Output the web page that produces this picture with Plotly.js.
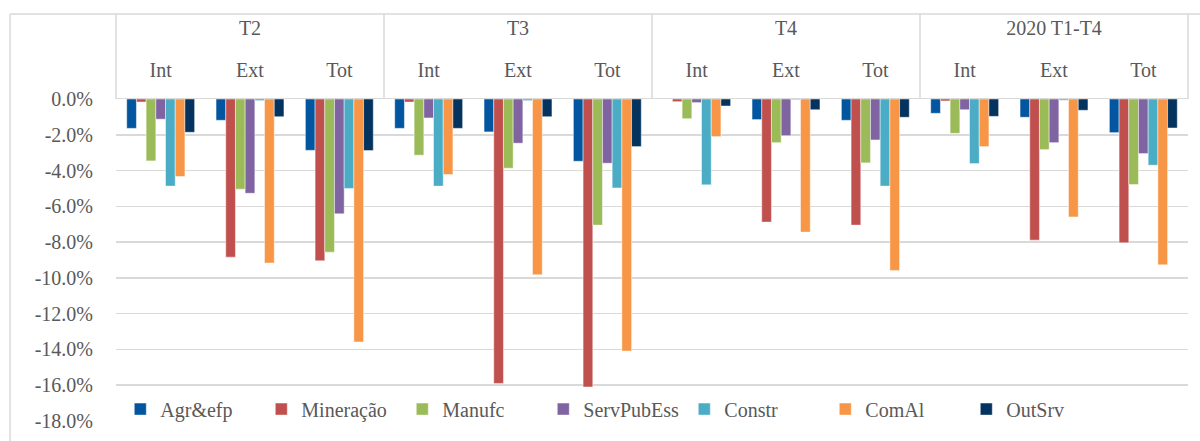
<!DOCTYPE html>
<html>
<head>
<meta charset="utf-8">
<script src="https://cdn.plot.ly/plotly-3.0.1.min.js"></script>
<style>html,body{margin:0;padding:0;background:#fff;}#chart{width:1200px;height:441px;}</style>
</head>
<body>
<div id="chart"></div>
<script>
const periods = ['T2', 'T3', 'T4', '2020 T1-T4'];
const subgroups = ['Int', 'Ext', 'Tot'];
const seriesNames = ['Agr&efp', 'Mineração', 'Manufc', 'ServPubEss', 'Constr', 'ComAl', 'OutSrv'];

// values in % ; order: T2 Int/Ext/Tot, T3 Int/Ext/Tot, T4 Int/Ext/Tot, 2020 Int/Ext/Tot
const agr        = [-1.64, -1.19, -2.87,  -1.64, -1.84, -3.48,   0.00, -1.15, -1.19,  -0.80, -1.02, -1.88];
const mineracao  = [-0.17, -8.84, -9.04,  -0.17, -15.90, -16.10, -0.15, -6.88, -7.05,  -0.11, -7.89, -8.04];
const manufc     = [-3.46, -5.04, -8.56,  -3.14, -3.87, -7.05,  -1.10, -2.44, -3.57,  -1.92, -2.83, -4.78];
const servPubEss = [-1.13, -5.27, -6.42,  -1.06, -2.47, -3.59,  -0.20, -2.05, -2.29,  -0.60, -2.44, -3.05];
const constr     = [-4.87, -0.09, -5.00,  -4.87, -0.09, -4.97,  -4.80, -0.04, -4.87,  -3.61, -0.07, -3.70];
const comAl      = [-4.33, -9.17, -13.58, -4.22, -9.82, -14.09, -2.10, -7.44, -9.58,  -2.66, -6.59, -9.27];
const outSrv     = [-1.86, -0.99, -2.88,  -1.64, -0.99, -2.66,  -0.39, -0.60, -1.02,  -0.97, -0.63, -1.62];

const yTicks = [0, -2, -4, -6, -8, -10, -12, -14, -16, -18];

const colors = ['#02559F', '#C0504D', '#9BBB59', '#8064A2', '#4BACC6', '#F79646', '#03335E'];
const allValues = [agr, mineracao, manufc, servPubEss, constr, comAl, outSrv];

// category positions built from the period / subgroup lists
const innerText = [], idx = [], periodCenters = [];
periods.forEach((p, pi) => {
  subgroups.forEach((s, si) => { idx.push(pi * subgroups.length + si); innerText.push(s); });
  periodCenters.push(pi * subgroups.length + (subgroups.length - 1) / 2);
});
const xRange = [-0.5, idx.length - 0.5];

const traces = allValues.map((vals, i) => ({
  type: 'bar',
  name: seriesNames[i],
  x: idx,
  y: vals,
  marker: { color: colors[i], line: { color: 'rgba(255,255,255,0.45)', width: 1 } },
  hoverinfo: 'y+name'
}));
// carrier trace so the period-label axis is drawn (no visible marks)
traces.push({
  type: 'scatter', mode: 'none', x: periodCenters, y: periodCenters.map(() => 0),
  xaxis: 'x2', yaxis: 'y', showlegend: false, hoverinfo: 'skip'
});

const font = 'Liberation Serif, serif';
const grey = '#595959';
const lineC = '#D9D9D9';

const shapes = [];
// outer chart border (top & left)
shapes.push({ type: 'line', xref: 'paper', yref: 'paper', x0: -0.0989, x1: 1.02, y0: 1.264, y1: 1.264, line: { color: lineC, width: 1.5 } });
shapes.push({ type: 'line', xref: 'paper', yref: 'paper', x0: -0.0989, x1: -0.0989, y0: 1.264, y1: -0.07, line: { color: lineC, width: 1.5 } });
// header box verticals
[0, 0.25, 0.5, 0.75, 1].forEach(x => shapes.push({ type: 'line', xref: 'paper', yref: 'paper', x0: x, x1: x, y0: 1, y1: 1.264, line: { color: lineC, width: 1.5 } }));

const tickFont = { family: font, size: 20, color: grey };

const layout = {
  width: 1200, height: 441,
  margin: { l: 116, r: 12, t: 99, b: 20 },
  paper_bgcolor: '#fff', plot_bgcolor: '#fff',
  font: { family: font, size: 20, color: grey },
  barmode: 'group',
  bargap: 0.24,
  bargroupgap: 0,
  showlegend: true,
  legend: {
    orientation: 'h', x: 0.004, xanchor: 'left', y: 0.037, yanchor: 'middle',
    entrywidth: 96, entrywidthmode: 'pixels',
    bgcolor: 'rgba(0,0,0,0)', font: { family: font, size: 20, color: grey },
    traceorder: 'normal'
  },
  xaxis: {
    side: 'top', range: xRange,
    tickmode: 'array', tickvals: idx, ticktext: innerText,
    showline: true, linecolor: lineC, linewidth: 1.5,
    ticks: '', showgrid: false, zeroline: false,
    ticklabelstandoff: 13,
    tickfont: tickFont
  },
  xaxis2: {
    side: 'top', overlaying: 'x', anchor: 'y', range: xRange,
    tickmode: 'array', tickvals: periodCenters, ticktext: periods,
    showline: false, ticks: '', showgrid: false, zeroline: false,
    ticklabelstandoff: 59,
    tickfont: tickFont
  },
  yaxis: {
    range: [-18, 0], tickvals: yTicks,
    ticktext: yTicks.map(v => v.toFixed(1) + '%'),
    showgrid: true, gridcolor: lineC, gridwidth: 1.5,
    zeroline: false, showline: false, ticks: '',
    ticklabelstandoff: 22,
    tickfont: tickFont
  },
  shapes: shapes
};

Plotly.newPlot('chart', traces, layout, { displayModeBar: false, staticPlot: true });
</script>
</body>
</html>
